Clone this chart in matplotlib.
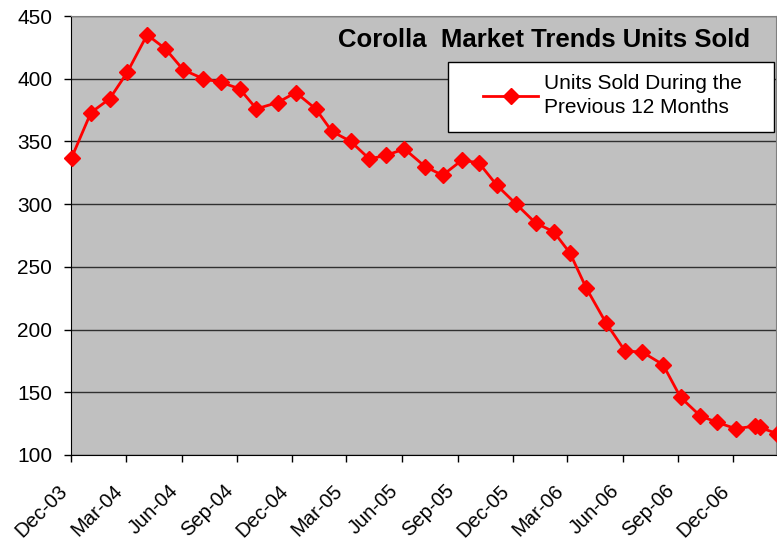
import numpy as np
import matplotlib
matplotlib.use("Agg")
import matplotlib.pyplot as plt
import matplotlib.dates as mdates
from matplotlib.patches import Rectangle

#%% DATA
dates = ["2003-12-02", "2004-01-03", "2004-02-03", "2004-03-03", "2004-04-05",
         "2004-05-05", "2004-06-04", "2004-07-07", "2004-08-06", "2004-09-05",
         "2004-10-03", "2004-11-07", "2004-12-07", "2005-01-09", "2005-02-05",
         "2005-03-08", "2005-04-08", "2005-05-06", "2005-06-05", "2005-07-09",
         "2005-08-07", "2005-09-08", "2005-10-06", "2005-11-05", "2005-12-07",
         "2006-01-08", "2006-02-07", "2006-03-06", "2006-04-02", "2006-05-05",
         "2006-06-05", "2006-07-04", "2006-08-07", "2006-09-05", "2006-10-08",
         "2006-11-05", "2006-12-05", "2007-01-06", "2007-01-14", "2007-02-12"]
units_sold = [337, 373, 384, 405, 435, 424, 407, 400, 397, 392,
              376, 381, 389, 376, 358, 350, 336, 339, 344, 330,
              323, 335, 333, 315, 300, 285, 278, 261, 233, 205,
              183, 182, 172, 146, 131, 126, 121, 123, 122, 117]
series_label = "Units Sold During the\nPrevious 12 Months"
chart_title = "Corolla  Market Trends Units Sold"

x = np.array(dates, dtype="datetime64[D]")

#%% PLOT
plt.rcParams['font.family'] = ['Liberation Sans', 'DejaVu Sans']

fig = plt.figure(figsize=(7.77, 5.40), dpi=100)
ax = fig.add_axes([71/777, 1 - 455/540, 705/777, 439/540])
ax.set_facecolor('#C0C0C0')

ax.plot(x, units_sold, color='#FF0000', lw=2, marker='D', ms=8,
        mec='#FF0000', mfc='#FF0000', label=series_label, clip_on=False, zorder=3)

ax.set_ylim(100, 450)
ax.set_yticks(np.arange(100, 451, 50))
ax.set_xlim(np.datetime64("2003-12-01"), np.datetime64("2007-02-10"))
ax.xaxis.set_major_locator(mdates.MonthLocator(bymonth=[3, 6, 9, 12]))
ax.xaxis.set_major_formatter(mdates.DateFormatter('%b-%y'))

ax.grid(axis='y', color='#303030', lw=1)
ax.set_axisbelow(True)
ax.tick_params(axis='both', direction='out', length=5, width=1)
ax.tick_params(axis='y', pad=8.5, labelsize=15)
ax.tick_params(axis='x', pad=23.5, labelsize=14.5)
for lab in ax.get_xticklabels():
    lab.set_rotation(45)
    lab.set_ha('right')
    lab.set_va('bottom')
    lab.set_rotation_mode('anchor')
ax.spines['top'].set_color('#808080')
ax.spines['right'].set_color('#808080')

ax.text(0.963, 0.946, chart_title, transform=ax.transAxes, ha='right', va='center',
        fontsize=18.5, fontweight='bold')

# legend box drawn by hand so the padding matches
ax.add_patch(Rectangle((0.5348, 0.7358), 0.4624, 0.1594, transform=ax.transAxes,
                       facecolor='white', edgecolor='black', lw=1, zorder=4))
leg = ax.legend(loc='center left', bbox_to_anchor=(0.5844, 0.8189), fontsize=15,
                frameon=False, borderpad=0, borderaxespad=0,
                handlelength=2.64, handletextpad=0.3)
leg.set_zorder(5)
leg.get_texts()[0].set_linespacing(1.3)

fig.savefig('out.png', dpi=100)
